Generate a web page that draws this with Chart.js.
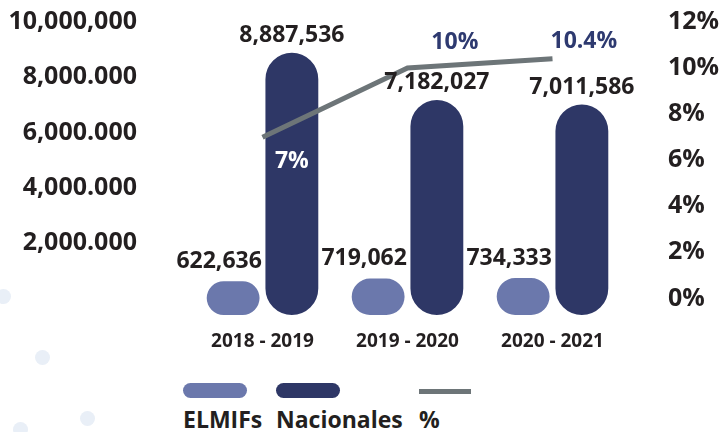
<!DOCTYPE html>
<html>
<head>
<meta charset="utf-8">
<script src="https://cdn.jsdelivr.net/npm/chart.js@4.4.1/dist/chart.umd.min.js"></script>
<style>
    html, body { margin: 0; padding: 0; background: #ffffff; }
    #wrap {
        position: relative; width: 727px; height: 432px; overflow: hidden;
        font-family: 'Open Sans', sans-serif; font-weight: 700; color: #231f20;
    }
    #chart { position: absolute; left: 0; top: 0; }
    .dot { position: absolute; width: 15px; height: 15px; border-radius: 50%; background: #e9eff7; }
    .swatch { position: absolute; top: 383px; width: 64px; height: 15px; border-radius: 8px; }
    .legend-text { position: absolute; top: 404px; font-size: 23px; line-height: 30px; white-space: nowrap; }
</style>
</head>
<body>
<div id="wrap">
    <div class="dot" style="left:-4px; top:289px;"></div>
    <div class="dot" style="left:35px; top:350px;"></div>
    <div class="dot" style="left:80px; top:411px;"></div>
    <div class="dot" style="left:13px; top:422px;"></div>

    <canvas id="chart" width="727" height="365"></canvas>

    <div class="swatch" style="left:183px; background:#6b78ac;"></div>
    <div class="legend-text" style="left:183px;">ELMIFs</div>
    <div class="swatch" style="left:276px; background:#2e3766;"></div>
    <div class="legend-text" style="left:276px;">Nacionales</div>
    <div class="swatch" style="left:419px; top:389px; width:52px; height:5px; border-radius:0; background:#6d7578;"></div>
    <div class="legend-text" style="left:419px;">%</div>
</div>
<script>
// datos
const categories = ['2018 - 2019', '2019 - 2020', '2020 - 2021'];
const elmifs = [622636, 719062, 734333];
const nacionales = [8887536, 7182027, 7011586];
const porcentaje = [7, 10, 10.4];
const pctLabels = ['7%', '10%', '10.4%'];
const leftTicks = [2000000, 4000000, 6000000, 8000000, 10000000];
const leftTickLabels = ['2,000.000', '4,000.000', '6,000.000', '8,000.000', '10,000,000'];
const rightTicks = [0, 2, 4, 6, 8, 10, 12];

const TEXT = '#231f20';
const NAVY = '#2e3766';
const BAR_BASE = -600000;   // las barras bajan un poco del cero

// desplazamiento de las etiquetas de % respecto a la barra Nacionales / punto
const pctShift = [[0, 24], [18, -26], [2, -17]];

// sin el relleno automatico que Chart.js pone arriba/abajo de los ejes
const fitY = w => s => { s.width = w; s.paddingTop = 0; s.paddingBottom = 0; };

const valueLabels = {
    id: 'valueLabels',
    afterDatasetsDraw(chart) {
        const ctx = chart.ctx;
        ctx.save();
        ctx.font = '700 23px "Open Sans"';
        ctx.textAlign = 'center';
        ctx.textBaseline = 'middle';
        ctx.fillStyle = TEXT;
        chart.getDatasetMeta(0).data.forEach((bar, i) => {
            ctx.fillText(elmifs[i].toLocaleString('en-US'), bar.x - 14, bar.y - 20);
        });
        chart.getDatasetMeta(1).data.forEach((bar, i) => {
            ctx.fillText(nacionales[i].toLocaleString('en-US'), bar.x, bar.y - 17);
        });

        const nacMeta = chart.getDatasetMeta(1);
        chart.getDatasetMeta(2).data.forEach((pt, i) => {
            ctx.fillStyle = i === 0 ? '#ffffff' : '#2e3a70';
            ctx.fillText(pctLabels[i], nacMeta.data[i].x + pctShift[i][0], pt.y + pctShift[i][1]);
        });
        ctx.restore();
    }
};

new Chart(document.getElementById('chart'), {
    data: {
        labels: categories,
        datasets: [
            {
                type: 'bar',
                label: 'ELMIFs',
                data: elmifs,
                base: BAR_BASE,
                backgroundColor: '#6b78ac',
                borderRadius: 100,
                borderSkipped: false,
                categoryPercentage: 0.81,
                barPercentage: 0.9,
                yAxisID: 'y',
                order: 1
            },
            {
                type: 'bar',
                label: 'Nacionales',
                data: nacionales,
                base: BAR_BASE,
                backgroundColor: NAVY,
                borderRadius: 100,
                borderSkipped: false,
                categoryPercentage: 0.81,
                barPercentage: 0.9,
                yAxisID: 'y',
                order: 1
            },
            {
                type: 'line',
                label: '%',
                data: porcentaje,
                borderColor: '#6d7578',
                borderWidth: 5,
                pointRadius: 0,
                tension: 0,
                yAxisID: 'y1',
                order: 0
            }
        ]
    },
    options: {
        responsive: false,
        animation: false,
        devicePixelRatio: 1,
        layout: { padding: { top: 22, left: 0, right: 0, bottom: 0 } },
        plugins: {
            legend: { display: false },
            tooltip: { enabled: false }
        },
        scales: {
            x: {
                grid: { display: false, drawTicks: false },
                border: { display: false },
                ticks: { color: TEXT, font: { family: 'Open Sans', size: 19, weight: 700 }, padding: 15 },
                afterFit: s => { s.height = 50; }
            },
            y: {
                position: 'left',
                min: BAR_BASE,
                max: 10000000,
                grid: { display: false, drawTicks: false },
                border: { display: false },
                afterBuildTicks: s => { s.ticks = leftTicks.map(v => ({ value: v })); },
                ticks: {
                    color: TEXT,
                    font: { family: 'Open Sans', size: 25, weight: 700 },
                    padding: 53,
                    callback: v => leftTickLabels[leftTicks.indexOf(v)]
                },
                afterFit: fitY(190)
            },
            y1: {
                position: 'right',
                min: -0.72,
                max: 12,
                grid: { display: false, drawTicks: false },
                border: { display: false },
                afterBuildTicks: s => { s.ticks = rightTicks.map(v => ({ value: v })); },
                ticks: {
                    color: TEXT,
                    font: { family: 'Open Sans', size: 25, weight: 700 },
                    padding: 43,
                    callback: v => v + '%'
                },
                afterFit: fitY(102)
            }
        }
    },
    plugins: [valueLabels]
});
</script>
</body>
</html>
